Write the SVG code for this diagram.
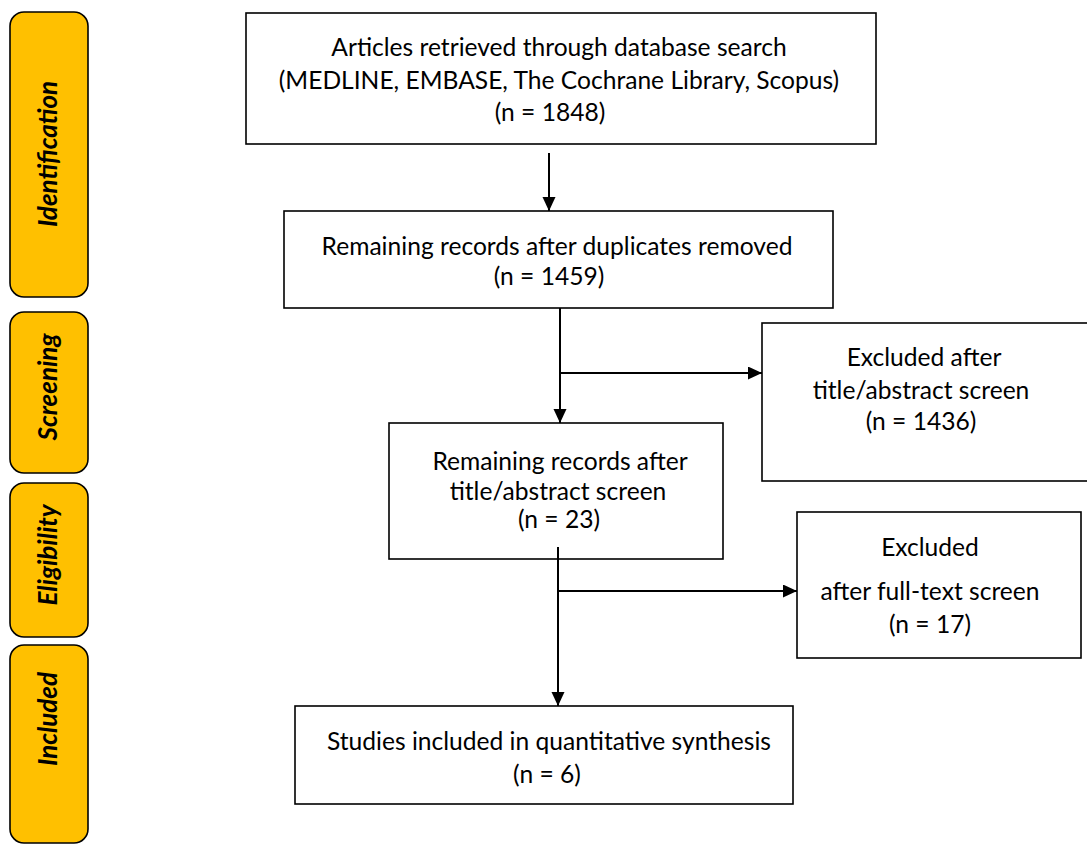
<svg xmlns="http://www.w3.org/2000/svg" width="1087" height="845" viewBox="0 0 1087 845">
<defs>
<marker id="ah" markerUnits="userSpaceOnUse" markerWidth="15" markerHeight="14" refX="14" refY="6.5" orient="auto">
<path d="M0,0 L14,6.5 L0,13 Z" fill="#000"/>
</marker>
</defs>
<style>
.box{fill:#fff;stroke:#000;stroke-width:1.6}
.phase{fill:#FFC000;stroke:#000;stroke-width:1.6}
.t{font-family:Lato,"Liberation Sans",sans-serif;font-size:24.6px;fill:#000;text-anchor:middle}
.p{font-family:Lato,"Liberation Sans",sans-serif;font-size:26px;font-weight:700;font-style:italic;fill:#000;text-anchor:middle}
.c{stroke:#000;stroke-width:2;fill:none}
</style>
<rect width="1087" height="845" fill="#fff"/>
<g id="phase-identification">
<rect class="phase" x="10" y="12" width="78" height="285" rx="14"/>
<text class="p" transform="translate(57,154) rotate(-90)">Identification</text>
</g>
<g id="phase-screening">
<rect class="phase" x="10" y="312" width="78" height="161" rx="14"/>
<text class="p" transform="translate(57,387) rotate(-90)">Screening</text>
</g>
<g id="phase-eligibility">
<rect class="phase" x="10" y="483" width="78" height="154" rx="14"/>
<text class="p" transform="translate(57,555) rotate(-90)">Eligibility</text>
</g>
<g id="phase-included">
<rect class="phase" x="10" y="645" width="78" height="198" rx="14"/>
<text class="p" transform="translate(57,719) rotate(-90)">Included</text>
</g>
<g id="n1">
<rect class="box" x="246" y="13" width="630" height="131"/>
<text class="t" x="559" y="56">Articles retrieved through database search</text>
<text class="t" x="559" y="89">(MEDLINE, EMBASE, The Cochrane Library, Scopus)</text>
<text class="t" x="550" y="121">(n = 1848)</text>
</g>
<g id="n2">
<rect class="box" x="284" y="211" width="549" height="97"/>
<text class="t" x="557" y="255">Remaining records after duplicates removed</text>
<text class="t" x="549" y="285">(n = 1459)</text>
</g>
<g id="n3">
<rect class="box" x="762" y="323" width="330" height="158"/>
<text class="t" x="924" y="366">Excluded after</text>
<text class="t" x="921" y="399">title/abstract screen</text>
<text class="t" x="921" y="430">(n = 1436)</text>
</g>
<g id="n4">
<rect class="box" x="389" y="423" width="334" height="136"/>
<text class="t" x="560" y="470">Remaining records after</text>
<text class="t" x="558" y="500">title/abstract screen</text>
<text class="t" x="559" y="528">(n = 23)</text>
</g>
<g id="n5">
<rect class="box" x="797" y="512" width="284" height="146"/>
<text class="t" x="930" y="556">Excluded</text>
<text class="t" x="930" y="600">after full-text screen</text>
<text class="t" x="930" y="633">(n = 17)</text>
</g>
<g id="n6">
<rect class="box" x="295" y="706" width="498" height="98"/>
<text class="t" x="549" y="750">Studies included in quantitative synthesis</text>
<text class="t" x="547" y="783">(n = 6)</text>
</g>
<g id="connectors">
<line class="c" x1="549" y1="153" x2="549" y2="211" marker-end="url(#ah)"/>
<line class="c" x1="560" y1="308" x2="560" y2="423" marker-end="url(#ah)"/>
<line class="c" x1="559" y1="373" x2="762" y2="373" marker-end="url(#ah)"/>
<line class="c" x1="558" y1="547" x2="558" y2="706" marker-end="url(#ah)"/>
<line class="c" x1="557" y1="591" x2="797" y2="591" marker-end="url(#ah)"/>
</g>
</svg>
